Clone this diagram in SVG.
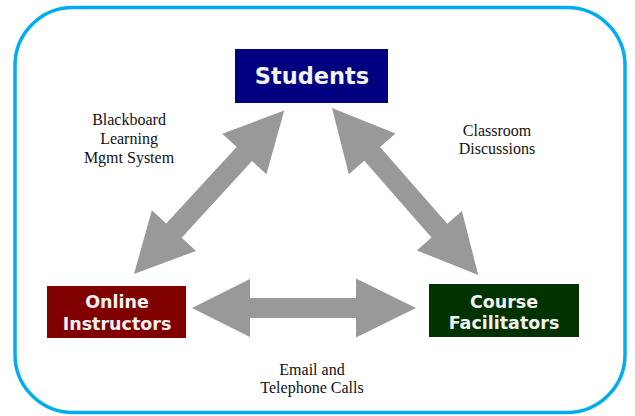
<svg xmlns="http://www.w3.org/2000/svg" width="635" height="416" viewBox="0 0 635 416">
<defs>
<style>
.frame{fill:#ffffff;stroke:#00AEEF;stroke-width:3.5}
.box-label{font-family:"DejaVu Sans","Verdana",sans-serif;font-weight:bold;fill:#f2f2f2;text-anchor:middle}
.edge-label{font-family:"Liberation Serif","Times New Roman",serif;font-size:16px;fill:#111111;text-anchor:middle}
.arrow{fill:#999999}
</style>
</defs>
<rect width="635" height="416" fill="#ffffff"/>
<rect class="frame" x="15" y="7.5" width="610" height="405" rx="58" ry="58"/>

<g id="connectors">
  <path id="arrow-instructors-students" class="arrow" transform="translate(134,274) rotate(-47.4)" d="M0,0 L59,-30 L59,-10.5 L163,-10.5 L163,-30 L222,0 L163,30 L163,10.5 L59,10.5 L59,30 Z"/>
  <path id="arrow-students-facilitators" class="arrow" transform="translate(332,108) rotate(48.8)" d="M0,0 L61,-31 L61,-10.5 L163,-10.5 L163,-30 L222,0 L163,30 L163,10.5 L61,10.5 L61,31 Z"/>
  <path id="arrow-instructors-facilitators" class="arrow" d="M192,308 L250,279 L250,298 L356,298 L356,278.5 L416,308 L356,337.5 L356,318 L250,318 L250,337 Z"/>
  <text class="edge-label" x="129" y="125">Blackboard</text>
  <text class="edge-label" x="129" y="144">Learning</text>
  <text class="edge-label" x="129" y="163">Mgmt System</text>
  <text class="edge-label" x="497" y="136">Classroom</text>
  <text class="edge-label" x="497" y="154">Discussions</text>
  <text class="edge-label" x="312" y="375">Email and</text>
  <text class="edge-label" x="312" y="393">Telephone Calls</text>
</g>

<g id="node-students">
  <rect x="235" y="49" width="153" height="54" fill="#000080"/>
  <text class="box-label" x="312" y="84" font-size="22.5">Students</text>
</g>

<g id="node-online-instructors">
  <rect x="47" y="286" width="139" height="52" fill="#800000"/>
  <text class="box-label" x="117" y="308" font-size="17.5">Online</text>
  <text class="box-label" x="117" y="330" font-size="17.5">Instructors</text>
</g>

<g id="node-course-facilitators">
  <rect x="429" y="284" width="150" height="53" fill="#003300"/>
  <text class="box-label" x="504" y="308" font-size="17.5">Course</text>
  <text class="box-label" x="504" y="329" font-size="17.5">Facilitators</text>
</g>
</svg>
